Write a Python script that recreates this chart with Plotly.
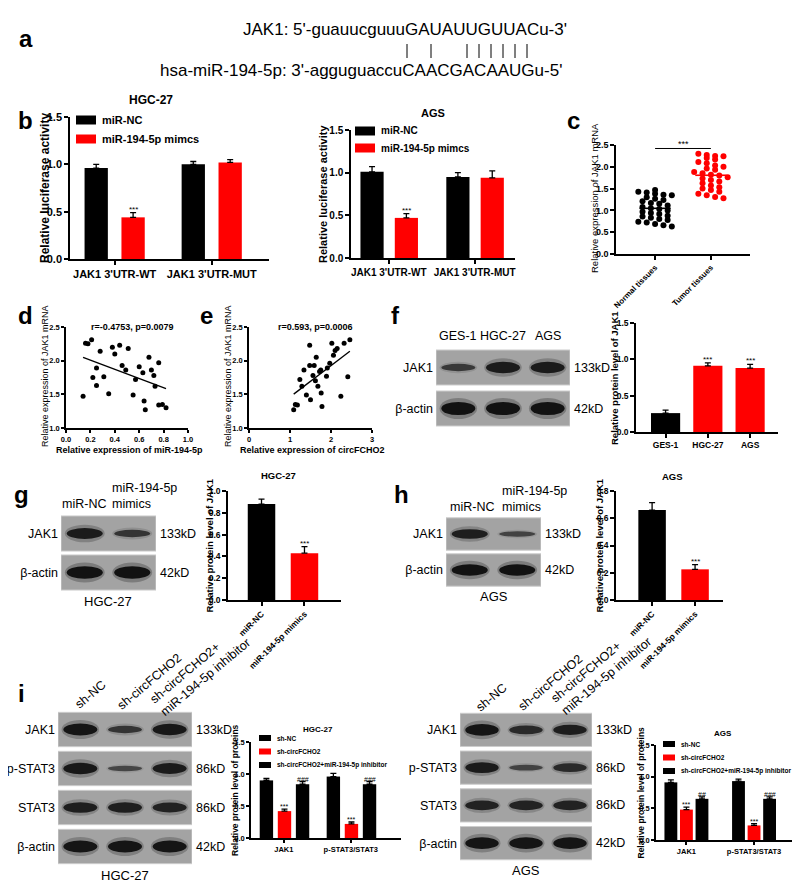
import numpy as np
import plotly.graph_objects as go

W, H = 800, 887
FONT = 'Liberation Sans, Arial, Helvetica, sans-serif'
RED = '#ff0000'

# ---------------- data ----------------
# a: predicted binding site
jak1_site = "JAK1: 5'-guauucguuuGAUAUUGUUACu-3'"
mir_site = "hsa-miR-194-5p: 3'-agguguaccuCAACGACAAUGu-5'"

# b: dual luciferase reporter
luc_groups = ["JAK1 3'UTR-WT", "JAK1 3'UTR-MUT"]
luc_series = ['miR-NC', 'miR-194-5p mimcs']
luc_hgc_nc = [0.96, 1.00]
luc_hgc_nc_err = [0.04, 0.03]
luc_hgc_mim = [0.44, 1.02]
luc_hgc_mim_err = [0.05, 0.03]
luc_ags_nc = [1.01, 0.95]
luc_ags_nc_err = [0.06, 0.05]
luc_ags_mim = [0.47, 0.94]
luc_ags_mim_err = [0.05, 0.08]

# c: JAK1 mRNA in tissues
tissue_groups = ['Normal tissues', 'Tumor tissues']
jak1_normal = [1.47, 1.43, 1.41, 1.38, 1.36, 1.35, 1.30, 1.27, 1.24, 1.21, 1.17, 1.15, 1.11,
               1.08, 1.05, 1.03, 1.00, 0.97, 0.94, 0.92, 0.88, 0.86, 0.83, 0.80, 0.78, 0.74,
               0.72, 0.69, 0.66, 0.63]
jak1_tumor = [2.30, 2.27, 2.25, 2.24, 2.20, 2.17, 2.11, 2.08, 2.03, 2.00, 1.96, 1.93, 1.88,
              1.85, 1.82, 1.80, 1.76, 1.73, 1.70, 1.66, 1.62, 1.57, 1.53, 1.50, 1.47, 1.43,
              1.38, 1.35, 1.31, 1.28]

# d: correlation with miR-194-5p
mir194_expr = [0.14, 0.16, 0.18, 0.21, 0.22, 0.25, 0.25, 0.28, 0.31, 0.35, 0.38, 0.40, 0.44,
               0.46, 0.49, 0.51, 0.55, 0.57, 0.60, 0.63, 0.64, 0.65, 0.68, 0.70, 0.72, 0.73,
               0.76, 0.76, 0.79, 0.82]
jak1_vs_mir = [1.47, 2.26, 2.25, 2.31, 1.75, 1.89, 1.63, 2.14, 1.76, 1.51, 2.20, 2.10, 2.23,
               1.93, 1.86, 2.18, 1.49, 1.72, 1.91, 1.82, 1.40, 1.27, 2.05, 1.86, 1.78, 1.62,
               1.97, 1.34, 1.35, 1.30]
corr_d = 'r=-0.4753, p=0.0079'

# e: correlation with circFCHO2
circ_expr = [1.09, 1.13, 1.18, 1.24, 1.29, 1.34, 1.40, 1.48, 1.50, 1.56, 1.59, 1.62, 1.64,
             1.68, 1.72, 1.75, 1.76, 1.78, 1.89, 1.91, 1.97, 2.02, 2.06, 2.10, 2.15, 2.24,
             2.32, 2.41, 2.46, 1.48]
jak1_vs_circ = [1.27, 1.35, 1.34, 1.72, 1.62, 1.86, 1.49, 1.93, 1.42, 1.78, 1.93, 1.70, 2.05,
                1.62, 1.84, 1.86, 1.52, 1.32, 1.77, 1.89, 1.96, 2.26, 2.08, 2.15, 2.18, 1.47,
                2.26, 1.76, 2.31, 2.23]
corr_e = 'r=0.593, p=0.0006'

# f: JAK1 protein in cell lines
cell_lines = ['GES-1', 'HGC-27', 'AGS']
jak1_cells = [0.26, 0.91, 0.88]
jak1_cells_err = [0.04, 0.04, 0.05]
jak1_cells_marks = ['', '***', '***']

# g, h: JAK1 protein after mimics
mimic_groups = ['miR-NC', 'miR-194-5p mimics']
jak1_hgc = [0.88, 0.43]
jak1_hgc_err = [0.045, 0.06]
jak1_ags = [0.66, 0.225]
jak1_ags_err = [0.055, 0.035]
mimic_marks = ['', '***']

# i: rescue experiment
rescue_groups = ['JAK1', 'p-STAT3/STAT3']
rescue_series = ['sh-NC', 'sh-circFCHO2', 'sh-circFCHO2+miR-194-5p inhibitor']
rescue_colors = ['black', RED, 'black']
rescue_hgc = [[0.90, 0.96], [0.42, 0.22], [0.84, 0.84]]
rescue_hgc_err = [[0.03, 0.05], [0.03, 0.03], [0.04, 0.04]]
rescue_hgc_marks = [['', ''], ['***', '***'], ['###', '###']]
rescue_ags = [[0.91, 0.93], [0.48, 0.23], [0.65, 0.65]]
rescue_ags_err = [[0.04, 0.03], [0.04, 0.03], [0.03, 0.03]]
rescue_ags_marks = [['', ''], ['***', '***'], ['##', '###']]

# western blots: relative band strength per lane
blot_f_rows = ['JAK1', 'β-actin']
blot_f_kd = ['133kD', '42kD']
blot_f_bands = [[0.45, 0.85, 0.85], [1.0, 1.0, 1.0]]
blot_g_lanes = ['miR-NC', 'miR-194-5p<br>mimics']
blot_g_bands = [[0.85, 0.5], [1.0, 1.0]]
blot_h_bands = [[0.8, 0.35], [1.0, 1.0]]
blot_i_lanes = ['sh-NC', 'sh-circFCHO2', 'sh-circFCHO2+<br>miR-194-5p inhibitor']
blot_i_rows = ['JAK1', 'p-STAT3', 'STAT3', 'β-actin']
blot_i_kd = ['133kD', '86kD', '86kD', '42kD']
blot_i_hgc_bands = [[0.95, 0.5, 0.9], [0.9, 0.3, 0.85], [0.8, 0.8, 0.75], [0.95, 0.95, 0.95]]
blot_i_ags_bands = [[0.95, 0.65, 0.8], [0.85, 0.35, 0.65], [0.75, 0.75, 0.75], [0.95, 0.95, 0.95]]

BLOT_FS = 12.5

# ---------------- helpers ----------------
fig = go.Figure()
axes = {}
annotations = []
shapes = []


def refs(n):
    return ('x' if n == 1 else f'x{n}'), ('y' if n == 1 else f'y{n}')


def place(n, left, right, top, bottom, xa, ya):
    xk, yk = refs(n)
    xa.update(domain=[left / W, right / W], anchor=yk)
    ya.update(domain=[1 - bottom / H, 1 - top / H], anchor=xk)
    axes['xaxis' if n == 1 else f'xaxis{n}'] = xa
    axes['yaxis' if n == 1 else f'yaxis{n}'] = ya


def prism(size=10, **kw):
    d = dict(showline=True, linecolor='black', linewidth=1.5, ticks='outside', ticklen=4,
             tickwidth=1.5, tickcolor='black', showgrid=False, zeroline=False, automargin=False,
             tickfont=dict(family=FONT, size=size, color='black', weight='bold'))
    d.update(kw)
    return d


def text(t, x, y, size=12, bold=False, angle=0, xanchor='center', yanchor='middle', align='center'):
    annotations.append(dict(text=t, x=x / W, y=1 - y / H, xref='paper', yref='paper',
                            showarrow=False, textangle=angle, xanchor=xanchor, yanchor=yanchor,
                            align=align,
                            font=dict(family=FONT, size=size, color='black',
                                      weight='bold' if bold else 'normal')))


def legend_item(x, y, w, h, color, label, size):
    shapes.append(dict(type='rect', xref='paper', yref='paper', x0=x / W, x1=(x + w) / W,
                       y0=1 - (y + h / 2) / H, y1=1 - (y - h / 2) / H,
                       fillcolor=color, line=dict(width=0)))
    text(label, x + w + 4, y, size=size, bold=True, xanchor='left')


def bars(n, vals_list, errs_list, colors, width, offsets, marks_list=None, mark_size=8):
    xk, yk = refs(n)
    pos = list(range(len(vals_list[0])))
    for vals, errs, col, off, marks in zip(vals_list, errs_list, colors, offsets,
                                           marks_list or [None] * len(vals_list)):
        fig.add_trace(go.Bar(x=pos, y=vals, width=width, offset=off,
                             marker=dict(color=col, line=dict(width=0)),
                             error_y=dict(type='data', symmetric=False, array=errs,
                                          arrayminus=[0] * len(errs), color='black',
                                          thickness=1.3, width=3),
                             xaxis=xk, yaxis=yk, showlegend=False, hoverinfo='y'))
        if not marks:
            continue
        centre = off + width / 2 if off is not None else 0
        for p, v, e, m in zip(pos, vals, errs, marks):
            if m:
                annotations.append(dict(text=m, x=p + centre, y=v + e, xref=xk, yref=yk,
                                        yanchor='bottom', showarrow=False, yshift=-3,
                                        font=dict(family=FONT, size=mark_size, color='black')))


def blot(n, left, right, top, bottom, rows, kd, bands_rows, gap=0.07):
    xk, yk = refs(n)
    nl, nr = len(bands_rows[0]), len(rows)
    xa = dict(range=[0.5, nl + 0.5], visible=False, fixedrange=True)
    ya = dict(range=[0, nr], tickvals=[nr - r - 0.5 for r in range(nr)], ticktext=rows,
              showline=False, showgrid=False, zeroline=False, ticks='', automargin=False,
              ticklabelstandoff=2, fixedrange=True,
              tickfont=dict(family=FONT, size=BLOT_FS, color='black'))
    place(n, left, right, top, bottom, xa, ya)
    for r, strengths in enumerate(bands_rows):
        yc = nr - r - 0.5
        shapes.append(dict(type='rect', xref=xk, yref=yk, x0=0.5, x1=nl + 0.5,
                           y0=yc - 0.5 + gap, y1=yc + 0.5 - gap, fillcolor='#a3a3a3',
                           line=dict(color='#cdcdcd', width=1)))
        for lane, s in enumerate(strengths, start=1):
            hh = 0.03 + 0.13 * s
            shapes.append(dict(type='circle', xref=xk, yref=yk, x0=lane - 0.42, x1=lane + 0.42,
                               y0=yc - hh * 1.6, y1=yc + hh * 1.6,
                               fillcolor=f'rgba(35,35,35,{0.3 * s:.2f})', line=dict(width=0)))
            shapes.append(dict(type='circle', xref=xk, yref=yk, x0=lane - 0.38, x1=lane + 0.38,
                               y0=yc - hh, y1=yc + hh,
                               fillcolor=f'rgba(18,18,18,{0.45 + 0.55 * s:.2f})',
                               line=dict(width=0)))
        annotations.append(dict(text=kd[r], x=1, y=yc, xref=f'{xk} domain', yref=yk,
                                xanchor='left', xshift=2, showarrow=False,
                                font=dict(family=FONT, size=BLOT_FS, color='black')))


def swarm(vals, binw=0.12, step=0.15):
    vals = np.asarray(vals)
    bins = np.floor((vals - vals.min()) / binw).astype(int)
    offs = np.zeros(len(vals))
    for b in np.unique(bins):
        idx = np.where(bins == b)[0]
        offs[idx] = (np.arange(len(idx)) - (len(idx) - 1) / 2) * step
    return offs


# ---------------- a ----------------
text('a', 18, 30, size=24, bold=True)
text(jak1_site, 233, 22, size=17, xanchor='left')
# base-pairing ticks, under the paired letters of the two strands
for bx in [399, 423, 459, 471, 483, 495, 507, 519]:
    shapes.append(dict(type='line', xref='paper', yref='paper', x0=bx / W, x1=bx / W,
                       y0=1 - 50 / H, y1=1 - 36 / H, line=dict(color='black', width=1)))
text(mir_site, 150, 62, size=17, xanchor='left')

# ---------------- b ----------------
text('b', 17, 112, size=24, bold=True)
for n, (l, r, t, b), nc, nce, mm, mme, offs, w, title, tpos, leg, rng, fs in [
        (1, (62, 261, 109, 251), luc_hgc_nc, luc_hgc_nc_err, luc_hgc_mim, luc_hgc_mim_err,
         [-0.31, 0.07], 0.24, 'HGC-27', (143, 92), (68, 112, 131, 37), [-0.46, 1.59], 11),
        (2, (343, 507, 122, 250), luc_ags_nc, luc_ags_nc_err, luc_ags_mim, luc_ags_mim_err,
         [-0.33, 0.07], 0.27, 'AGS', (425, 105), (347, 123, 140, 315), [-0.44, 1.47], 10)]:
    place(n, l, r, t, b,
          prism(fs, range=rng, tickvals=[0, 1], ticktext=luc_groups, tickangle=0),
          prism(fs, range=[0, 1.5], dtick=0.5, tickformat='.1f'))
    bars(n, [nc, mm], [nce, mme], ['black', RED], w, offs, [['', ''], ['***', '']])
    text(title, tpos[0], tpos[1], size=fs + 1, bold=True)
    legend_item(leg[0], leg[1], 20, 9, 'black', luc_series[0], fs)
    legend_item(leg[0], leg[2], 20, 9, RED, luc_series[1], fs)
    text('Relative luciferase activity', leg[3], (t + b) / 2, size=fs + 1, bold=True, angle=-90)

# ---------------- c ----------------
text('c', 565, 112, size=24, bold=True)
place(3, 608, 742, 137, 246,
      prism(8, range=[0.3, 2.7], tickvals=[1, 2], ticktext=tissue_groups, tickangle=-45),
      prism(9, range=[0, 2.5], dtick=0.5, tickformat='.1f'))
for i, (vals, col) in enumerate([(jak1_normal, 'black'), (jak1_tumor, RED)], start=1):
    fig.add_trace(go.Scatter(x=i + swarm(vals), y=vals, mode='markers',
                             marker=dict(color=col, size=6), xaxis='x3', yaxis='y3',
                             showlegend=False))
    m = float(np.mean(vals))
    fig.add_trace(go.Scatter(x=[i - 0.28, i + 0.28], y=[m, m], mode='lines',
                             line=dict(color=col, width=1.6), xaxis='x3', yaxis='y3',
                             showlegend=False, hoverinfo='skip'))
sig_y = max(jak1_tumor) + 0.12
shapes.append(dict(type='line', xref='x3', yref='y3', x0=1, x1=2, y0=sig_y, y1=sig_y,
                   line=dict(color='black', width=1)))
annotations.append(dict(text='***', x=1.5, y=sig_y, xref='x3', yref='y3', yanchor='bottom',
                        showarrow=False, yshift=-3, font=dict(family=FONT, size=9)))
text('Relative expression of JAK1 mRNA', 586, 190, size=9.5, angle=-90)

# ---------------- d, e ----------------
for n, letter, lpos, (l, r), xv, yv, xrng, xdt, xfmt, corr, ytx, xtitle in [
        (4, 'd', (17, 307), (58, 180), mir194_expr, jak1_vs_mir, [0, 1], 0.2, '.1f', corr_d, 37,
         'Relative expression of miR-194-5p'),
        (5, 'e', (198, 307), (241, 364), circ_expr, jak1_vs_circ, [0, 3], 1, 'd', corr_e, 220,
         'Relative expression of circFCHO2')]:
    xk, yk = refs(n)
    text(letter, lpos[0], lpos[1], size=24, bold=True)
    place(n, l, r, 319, 420,
          prism(7.5, range=xrng, dtick=xdt, tickformat=xfmt, ticklen=3),
          prism(7.5, range=[1.0, 2.5], dtick=0.5, tickformat='.1f', ticklen=3))
    fig.add_trace(go.Scatter(x=xv, y=yv, mode='markers', marker=dict(color='black', size=5),
                             xaxis=xk, yaxis=yk, showlegend=False))
    k, c0 = np.polyfit(xv, yv, 1)
    fx = np.array([min(xv), max(xv)])
    fig.add_trace(go.Scatter(x=fx, y=k * fx + c0, mode='lines',
                             line=dict(color='black', width=1.3), xaxis=xk, yaxis=yk,
                             showlegend=False, hoverinfo='skip'))
    text(corr, (l + r) / 2 + 5, 319, size=9, bold=True)
    text('Relative expression of JAK1 mRNA', ytx, 368, size=9, angle=-90)
    text(xtitle, (l + r) / 2 + 2, 442, size=9, bold=True)

# ---------------- f ----------------
text('f', 387, 307, size=24, bold=True)
blot(11, 428, 562, 339, 421, blot_f_rows, blot_f_kd, blot_f_bands, gap=0.073)
for lane, name in enumerate(cell_lines, start=1):
    annotations.append(dict(text=name, x=lane, y=1 - 328 / H, xref='x11', yref='paper',
                            showarrow=False, font=dict(family=FONT, size=BLOT_FS, color='black')))
place(6, 628, 770, 315, 424,
      prism(8.5, range=[-0.7, 2.66], tickvals=[0, 1, 2], ticktext=cell_lines),
      prism(8.5, range=[0, 1.5], dtick=0.5, tickformat='.1f'))
f_pos = list(range(len(cell_lines)))
fig.add_trace(go.Bar(x=f_pos, y=jak1_cells, width=0.69,
                     marker=dict(color=['black', RED, RED], line=dict(width=0)),
                     error_y=dict(type='data', symmetric=False, array=jak1_cells_err,
                                  arrayminus=[0] * 3, color='black', thickness=1.3, width=3),
                     xaxis='x6', yaxis='y6', showlegend=False))
for p, v, e, m in zip(f_pos, jak1_cells, jak1_cells_err, jak1_cells_marks):
    if m:
        annotations.append(dict(text=m, x=p, y=v + e, xref='x6', yref='y6', yanchor='bottom',
                                showarrow=False, yshift=-3, font=dict(family=FONT, size=8)))
text('Relative protein level of JAK1', 606, 370, size=9.5, bold=True, angle=-90)

# ---------------- g, h ----------------
for n, bn, letter, lpos, blot_box, lane_x, lane_y, bands_, cap, cap_y, box, rng, ymax, vals, \
        errs, title, tpos, ytx in [
        (7, 12, 'g', (13, 487), (53, 148, 506, 584), (76, 102), 505, blot_g_bands, 'HGC-27',
         593, (220, 333, 483, 592), [-0.78, 1.85], 1.0, jak1_hgc, jak1_hgc_err, 'HGC-27',
         (270, 468), 201),
        (8, 13, 'h', (393, 487), (438, 533, 508, 580), (464, 492), 508, blot_h_bands, 'AGS',
         588, (608, 715, 483, 592), [-0.84, 1.65], 0.8, jak1_ags, jak1_ags_err, 'AGS',
         (664, 469), 591)]:
    text(letter, lpos[0], lpos[1], size=24, bold=True)
    blot(bn, *blot_box, blot_f_rows, blot_f_kd, bands_, gap=0.05)
    text(blot_g_lanes[0], lane_x[0], lane_y, size=BLOT_FS, yanchor='bottom')
    text(blot_g_lanes[1], lane_x[1], lane_y, size=BLOT_FS, yanchor='bottom', xanchor='left',
         align='left')
    text(cap, (blot_box[0] + blot_box[1]) / 2, cap_y, size=BLOT_FS + 0.5)
    place(n, box[0], box[1], box[2], box[3],
          prism(8.5, range=rng, tickvals=[0, 1], ticktext=mimic_groups, tickangle=-45),
          prism(8.5, range=[0, ymax], dtick=0.2, tickformat='.1f'))
    bars(n, [[vals[0], None], [None, vals[1]]], [[errs[0], 0], [0, errs[1]]],
         ['black', RED], 0.64, [None, None], [['', ''], mimic_marks])
    text(title, tpos[0], tpos[1], size=9.5, bold=True)
    text('Relative protein level of JAK1', ytx, (box[2] + box[3]) / 2, size=9.5, bold=True,
         angle=-90)

# ---------------- i ----------------
text('i', 13, 685, size=24, bold=True)
for n, bn, blot_box, centres, bands_, cap, cap_y, box, rng, width, offs, vals, errs, marks, \
        title, tpos, leg, ytx in [
        (9, 14, (50, 184, 702, 858), [(82, 687), (141, 674), (192, 663)], blot_i_hgc_bands,
         'HGC-27', 867, (243, 393, 734, 830), [-0.49, 1.75], 0.2, [-0.36, -0.09, 0.18],
         rescue_hgc, rescue_hgc_err, rescue_hgc_marks, 'HGC-27', (310, 721), (251, 730),
         227),
        (10, 15, (452, 584, 703, 854), [(483, 690), (542, 675), (593, 662)], blot_i_ags_bands,
         'AGS', 862, (648, 790, 737, 832), [-0.45, 1.65], 0.19, [-0.325, -0.095, 0.135],
         rescue_ags, rescue_ags_err, rescue_ags_marks, 'AGS', (715, 725), (655, 736), 632)]:
    blot(bn, *blot_box, blot_i_rows, blot_i_kd, bands_, gap=0.06)
    for (cx, cy), name in zip(centres, blot_i_lanes):
        text(name, cx, cy, size=BLOT_FS, angle=-40, align='left')
    text(cap, (blot_box[0] + blot_box[1]) / 2, cap_y, size=BLOT_FS + 0.5)
    place(n, box[0], box[1], box[2], box[3],
          prism(7.5, range=rng, tickvals=[0, 1], ticktext=rescue_groups, ticklen=3),
          prism(7.5, range=[0, 1.5], dtick=0.5, tickformat='.1f', ticklen=3))
    bars(n, vals, errs, rescue_colors, width, offs, marks, mark_size=7)
    text(title, tpos[0], tpos[1], size=8, bold=True)
    for k, (name, col) in enumerate(zip(rescue_series, rescue_colors)):
        legend_item(leg[0], leg[1] + 13.5 * k, 12, 6, col, name, 6.5)
    text('Relative protein level of proteins', ytx, (box[2] + box[3]) / 2, size=8.5, bold=True,
         angle=-90)

fig.update_layout(width=W, height=H, margin=dict(l=0, r=0, t=0, b=0),
                  paper_bgcolor='white', plot_bgcolor='rgba(0,0,0,0)', barmode='overlay',
                  showlegend=False, font=dict(family=FONT, color='black'),
                  annotations=annotations, shapes=shapes, **axes)
fig.write_html('out.html')
